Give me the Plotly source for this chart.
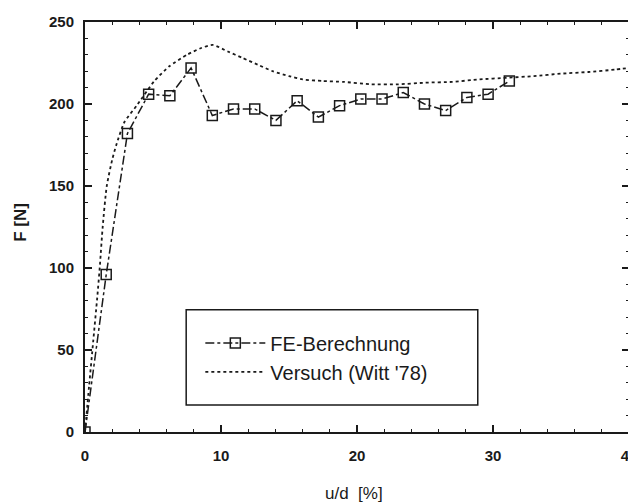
import plotly.graph_objects as go

# FE-Berechnung (computed)
fe_x = [0.0, 1.56, 3.12, 4.68, 6.24, 7.8, 9.36, 10.92, 12.48, 14.04, 15.6, 17.16,
        18.72, 20.28, 21.84, 23.4, 24.96, 26.52, 28.08, 29.64, 31.2]
fe_y = [0, 96, 182, 206, 205, 222, 193, 197, 197, 190, 202, 192,
        199, 203, 203, 207, 200, 196, 204, 206, 214]

# Versuch (Witt '78) (experiment)
ex_x = [0.0, 0.3, 0.6, 0.9, 1.1, 1.3, 1.6, 2.0, 2.3, 2.9, 3.8, 5.1, 6.2, 7.5, 8.5,
        9.4, 10.5, 11.6, 12.7, 13.8, 15.0, 16.0, 17.5, 19.0, 21.0, 23.0, 25.0,
        27.0, 29.0, 31.0, 33.0, 35.0, 37.0, 39.0, 40.0]
ex_y = [0, 28, 55, 82, 102, 125, 150, 166, 175, 189, 199, 214, 223, 230, 234,
        236, 232, 228, 224, 220, 217, 215, 214, 213.5, 212, 212, 213,
        213.5, 215, 216, 217, 218.5, 219.5, 221, 222]

x_ticks = [0, 10, 20, 30, 40]
x_ticklabels = ["0", "10", "20", "30", "40"]
y_ticks = [0, 50, 100, 150, 200, 250]
y_ticklabels = ["0", "50", "100", "150", "200", "250"]

x_title = "u/d  [%]"
y_title = "F [N]"

INK = "#1a1a1a"
FONT = "Liberation Sans"

fig = go.Figure()
fig.add_trace(go.Scatter(
    x=fe_x, y=fe_y, mode="lines+markers", name="FE-Berechnung",
    line=dict(color=INK, width=1.5, dash="dashdot"),
    marker=dict(symbol="square-open", size=10, color=INK, line=dict(width=1.5, color=INK)),
))
fig.add_trace(go.Scatter(
    x=ex_x, y=ex_y, mode="lines", name="Versuch (Witt '78)",
    line=dict(color=INK, width=1.8, dash="dot", shape="spline", smoothing=0.6),
))

axis_common = dict(
    showline=True, linecolor=INK, linewidth=2, mirror="allticks",
    ticks="inside", ticklen=7, tickwidth=1.5, tickcolor=INK,
    showgrid=False, zeroline=False, automargin=False,
    ticklabeloverflow="allow",
    tickfont=dict(family=FONT, size=15, color=INK, weight="bold"),
)

fig.update_xaxes(
    range=[0, 40], tickvals=x_ticks, ticktext=x_ticklabels,
    minor=dict(dtick=2, ticks="inside", ticklen=3, tickwidth=1, tickcolor=INK),
    ticklabelstandoff=9,
    **axis_common,
)
fig.update_yaxes(
    range=[0, 250], tickvals=y_ticks, ticktext=y_ticklabels,
    minor=dict(dtick=10, ticks="inside", ticklen=3, tickwidth=1, tickcolor=INK),
    ticklabelstandoff=6,
    **axis_common,
)

fig.add_annotation(text=x_title, xref="paper", yref="paper", x=0.494, y=-0.149,
                   xanchor="center", yanchor="middle", showarrow=False,
                   font=dict(family=FONT, size=17, color=INK))
fig.add_annotation(text=y_title, xref="paper", yref="paper", x=-0.12, y=0.512,
                   xanchor="center", yanchor="middle", showarrow=False, textangle=-90,
                   font=dict(family=FONT, size=17, color=INK, weight="bold"))

fig.add_shape(type="rect", xref="paper", yref="paper",
              x0=0.186, x1=0.722, y0=0.066, y1=0.298,
              line=dict(color=INK, width=1.5), fillcolor="white", layer="below")

# page body adds an 8px margin; figure is sized/offset to compensate
fig.update_layout(
    width=628, height=494,
    margin=dict(l=77, r=7, t=14, b=70),
    paper_bgcolor="white", plot_bgcolor="white",
    showlegend=True,
    legend=dict(x=0.212, y=0.182, xanchor="left", yanchor="middle",
                bgcolor="rgba(0,0,0,0)", borderwidth=0, itemwidth=60,
                font=dict(family=FONT, size=20, color=INK), tracegroupgap=0),
)

fig.write_html("out.html")
